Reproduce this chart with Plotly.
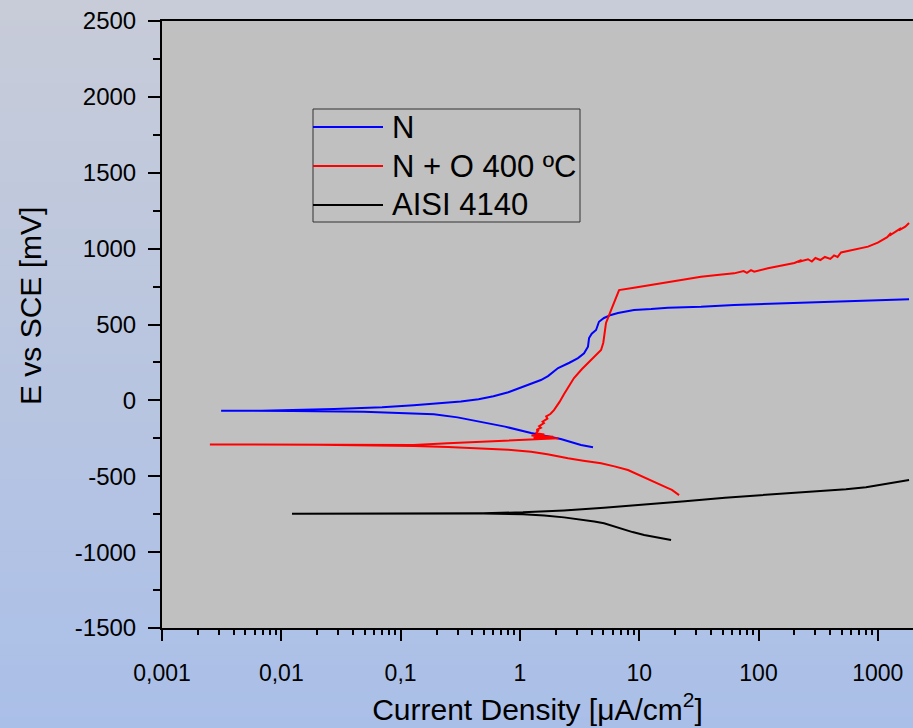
import numpy as np
import plotly.graph_objects as go

# ---------------- data (current density in uA/cm2, potential in mV) ----------------
n_x = [4.10, 3.25, 2.2, 1.24, 0.75, 0.472, 0.30, 0.19, 0.10, 0.0493, 0.0125, 0.00313,
       0.0068, 0.0277, 0.07, 0.129, 0.22, 0.32, 0.45, 0.60, 0.80, 0.964, 1.15, 1.31,
       1.50, 1.72, 2.09, 2.6, 3.07, 3.45, 3.72, 3.80, 4.0, 4.35, 4.60, 5.07, 5.8, 6.64,
       9.04, 12.6, 17.4, 33.0, 62.4, 227, 828, 1828]
n_y = [-309, -294, -255, -215, -173, -141, -112, -92, -82, -75, -70, -68,
       -68, -57, -45, -32, -20, -8, 8, 27, 54, 77, 100, 116,
       134, 160, 213, 248, 279, 310, 354, 411, 440, 464, 518, 543, 563, 576,
       596, 602, 611, 617, 628, 644, 657, 666]

no_x = [21.6, 19.5, 20.5, 18.8, 17.4, 14.5, 12.6, 10.0, 8.05, 6.2, 4.79, 3.4, 2.53,
        1.7, 1.24, 0.80, 0.472, 0.25, 0.129, 0.05, 0.02, 0.00252,
        0.0146, 0.05, 0.129, 0.249, 0.6, 0.893, 1.5, 2.1, 1.3, 1.9, 1.25, 1.6, 1.36,
        1.42, 1.38, 1.5, 1.45, 1.59, 1.55, 1.7, 1.66, 1.8, 1.93, 2.05, 2.15, 2.34,
        2.6, 2.84, 3.3, 3.95, 4.4, 4.79, 5.0, 5.07, 5.27, 5.81, 6.3, 6.78, 9.04,
        12.6, 17.4, 25, 33.0, 45, 62.4, 75, 80, 86.5, 92, 120, 164, 200, 230, 215,
        260, 280, 300, 330, 360, 400, 430, 460, 492, 600, 700, 828, 1000, 1100, 1050,
        1200, 1290, 1250, 1400, 1567, 1500, 1700, 1828]
no_y = [-624, -600, -610, -590, -578, -550, -525, -490, -459, -435, -415, -398, -382,
        -355, -338, -325, -316, -308, -301, -296, -293, -290,
        -291, -292, -294, -283, -268, -262, -255, -250, -245, -240, -232, -225, -217,
        -200, -195, -180, -170, -149, -140, -120, -105, -90, -64, -35, -10, 40,
        95, 147, 205, 266, 300, 332, 380, 420, 510, 595, 665, 727, 742,
        760, 782, 800, 815, 826, 837, 852, 840, 858, 848, 870, 892, 905, 925, 912,
        930, 915, 938, 925, 945, 932, 955, 945, 975, 990, 1000, 1013, 1040, 1060, 1045,
        1075, 1103, 1085, 1110, 1135, 1120, 1145, 1169]

aisi_x = [18.5, 14.0, 11.0, 8.8, 7.46, 6.2, 5.07, 4.2, 3.44, 2.34, 1.6, 1.06, 0.491, 0.05, 0.0123,
          0.05, 0.491, 1.06, 2.34, 5.07, 11.0, 24.2, 52.4, 113, 250, 541, 796, 1194, 1828]
aisi_y = [-920, -905, -887, -868, -850, -830, -810, -798, -788, -771, -758, -750, -746, -747, -747,
          -746, -743, -738, -725, -707, -688, -664, -641, -624, -606, -586, -573, -551, -525]

names = ["N", "N + O 400 ºC", "AISI 4140"]
colors = ["#0000ff", "#ff0000", "#000000"]

x_tickvals = [0.001, 0.01, 0.1, 1, 10, 100, 1000]
x_ticktext = ["0,001", "0,01", "0,1", "1", "10", "100", "1000"]
y_tickvals = [-1500, -1000, -500, 0, 500, 1000, 1500, 2000, 2500]
y_ticktext = ["-1500", "-1000", "-500", "0", "500", "1000", "1500", "2000", "2500"]

# ---------------- figure ----------------
W, H = 913, 728
L, T, B, R = 162, 21, 100, 0
pw, ph = W - L - R, H - T - B


def px(xp):
    return (xp - L) / pw


def py(yp):
    return 1 - (yp - T) / ph


fig = go.Figure()
for xs, ys, nm, c in zip([n_x, no_x, aisi_x], [n_y, no_y, aisi_y], names, colors):
    fig.add_trace(go.Scatter(x=xs, y=ys, mode="lines", name=nm, showlegend=False,
                             line=dict(color=c, width=2)))

# vertical gradient background built from thin bands
shapes = []
nb = 140
top_c = np.array([200, 204, 216])
bot_c = np.array([170, 191, 232])
for i in range(nb):
    f = (i + 0.5) / nb
    c = top_c + (bot_c - top_c) * f
    y0_px = H * i / nb
    y1_px = H * (i + 1) / nb + 1
    shapes.append(dict(type="rect", xref="paper", yref="paper", layer="below",
                       x0=px(0), x1=1.01, y0=py(y1_px), y1=py(y0_px),
                       fillcolor="rgb(%d,%d,%d)" % tuple(c.round()), line=dict(width=0)))
shapes.append(dict(type="rect", xref="paper", yref="paper", layer="below",
                   x0=0, x1=1.01, y0=0, y1=1, fillcolor="#c0c0c0", line=dict(width=0)))

# legend box, sample lines and labels
font = "Arial, 'Liberation Sans', sans-serif"
shapes.append(dict(type="rect", xref="paper", yref="paper",
                   x0=px(313), x1=px(580), y0=py(222), y1=py(109),
                   line=dict(color="#333333", width=1)))
annotations = []
for nm, c, yy in zip(names, colors, [127, 166, 205]):
    shapes.append(dict(type="line", xref="paper", yref="paper",
                       x0=px(313), x1=px(383), y0=py(yy), y1=py(yy),
                       line=dict(color=c, width=2)))
    annotations.append(dict(text=nm, xref="paper", yref="paper", x=px(390), y=py(yy),
                            xanchor="left", yanchor="middle", showarrow=False,
                            font=dict(size=31, family=font, color="black")))

annotations.append(dict(text="E vs SCE [mV]", xref="paper", yref="paper",
                        x=px(30), y=py(306), textangle=-90,
                        showarrow=False, font=dict(size=30, family=font, color="black"),
                        xanchor="center", yanchor="middle"))

minor_x = [m * 10.0 ** e for e in range(-3, 4) for m in range(2, 10)]

fig.update_layout(
    width=W, height=H,
    margin=dict(l=L, r=R, t=T, b=B, pad=0),
    paper_bgcolor="#c0c8de",
    plot_bgcolor="rgba(0,0,0,0)",
    shapes=shapes,
    annotations=annotations,
    font=dict(family=font, color="black"),
    showlegend=False,
    xaxis=dict(type="log", range=[np.log10(0.001), np.log10(0.001) + pw / 119.3],
               tickvals=x_tickvals, ticktext=x_ticktext,
               ticks="outside", ticklen=11, tickwidth=2, tickcolor="black",
               showline=True, linewidth=2, linecolor="black", mirror=True,
               showgrid=False, zeroline=False,
               tickfont=dict(size=23), ticklabelstandoff=12,
               minor=dict(tickvals=minor_x, ticks="outside", ticklen=5, tickwidth=2,
                          tickcolor="black", showgrid=False),
               title=dict(text="Current Density [μA/cm<sup>2</sup>]", font=dict(size=30),
                          standoff=14)),
    yaxis=dict(range=[-1500, 2500], tickvals=y_tickvals, ticktext=y_ticktext,
               ticks="outside", ticklen=12, tickwidth=2, tickcolor="black",
               showline=True, linewidth=2, linecolor="black", mirror=False,
               showgrid=False, zeroline=False,
               tickfont=dict(size=24), ticklabelstandoff=7,
               minor=dict(tickvals=list(range(-1250, 2500, 500)), ticks="outside",
                          ticklen=7, tickwidth=2, tickcolor="black", showgrid=False)),
)

fig.write_html("out.html")
